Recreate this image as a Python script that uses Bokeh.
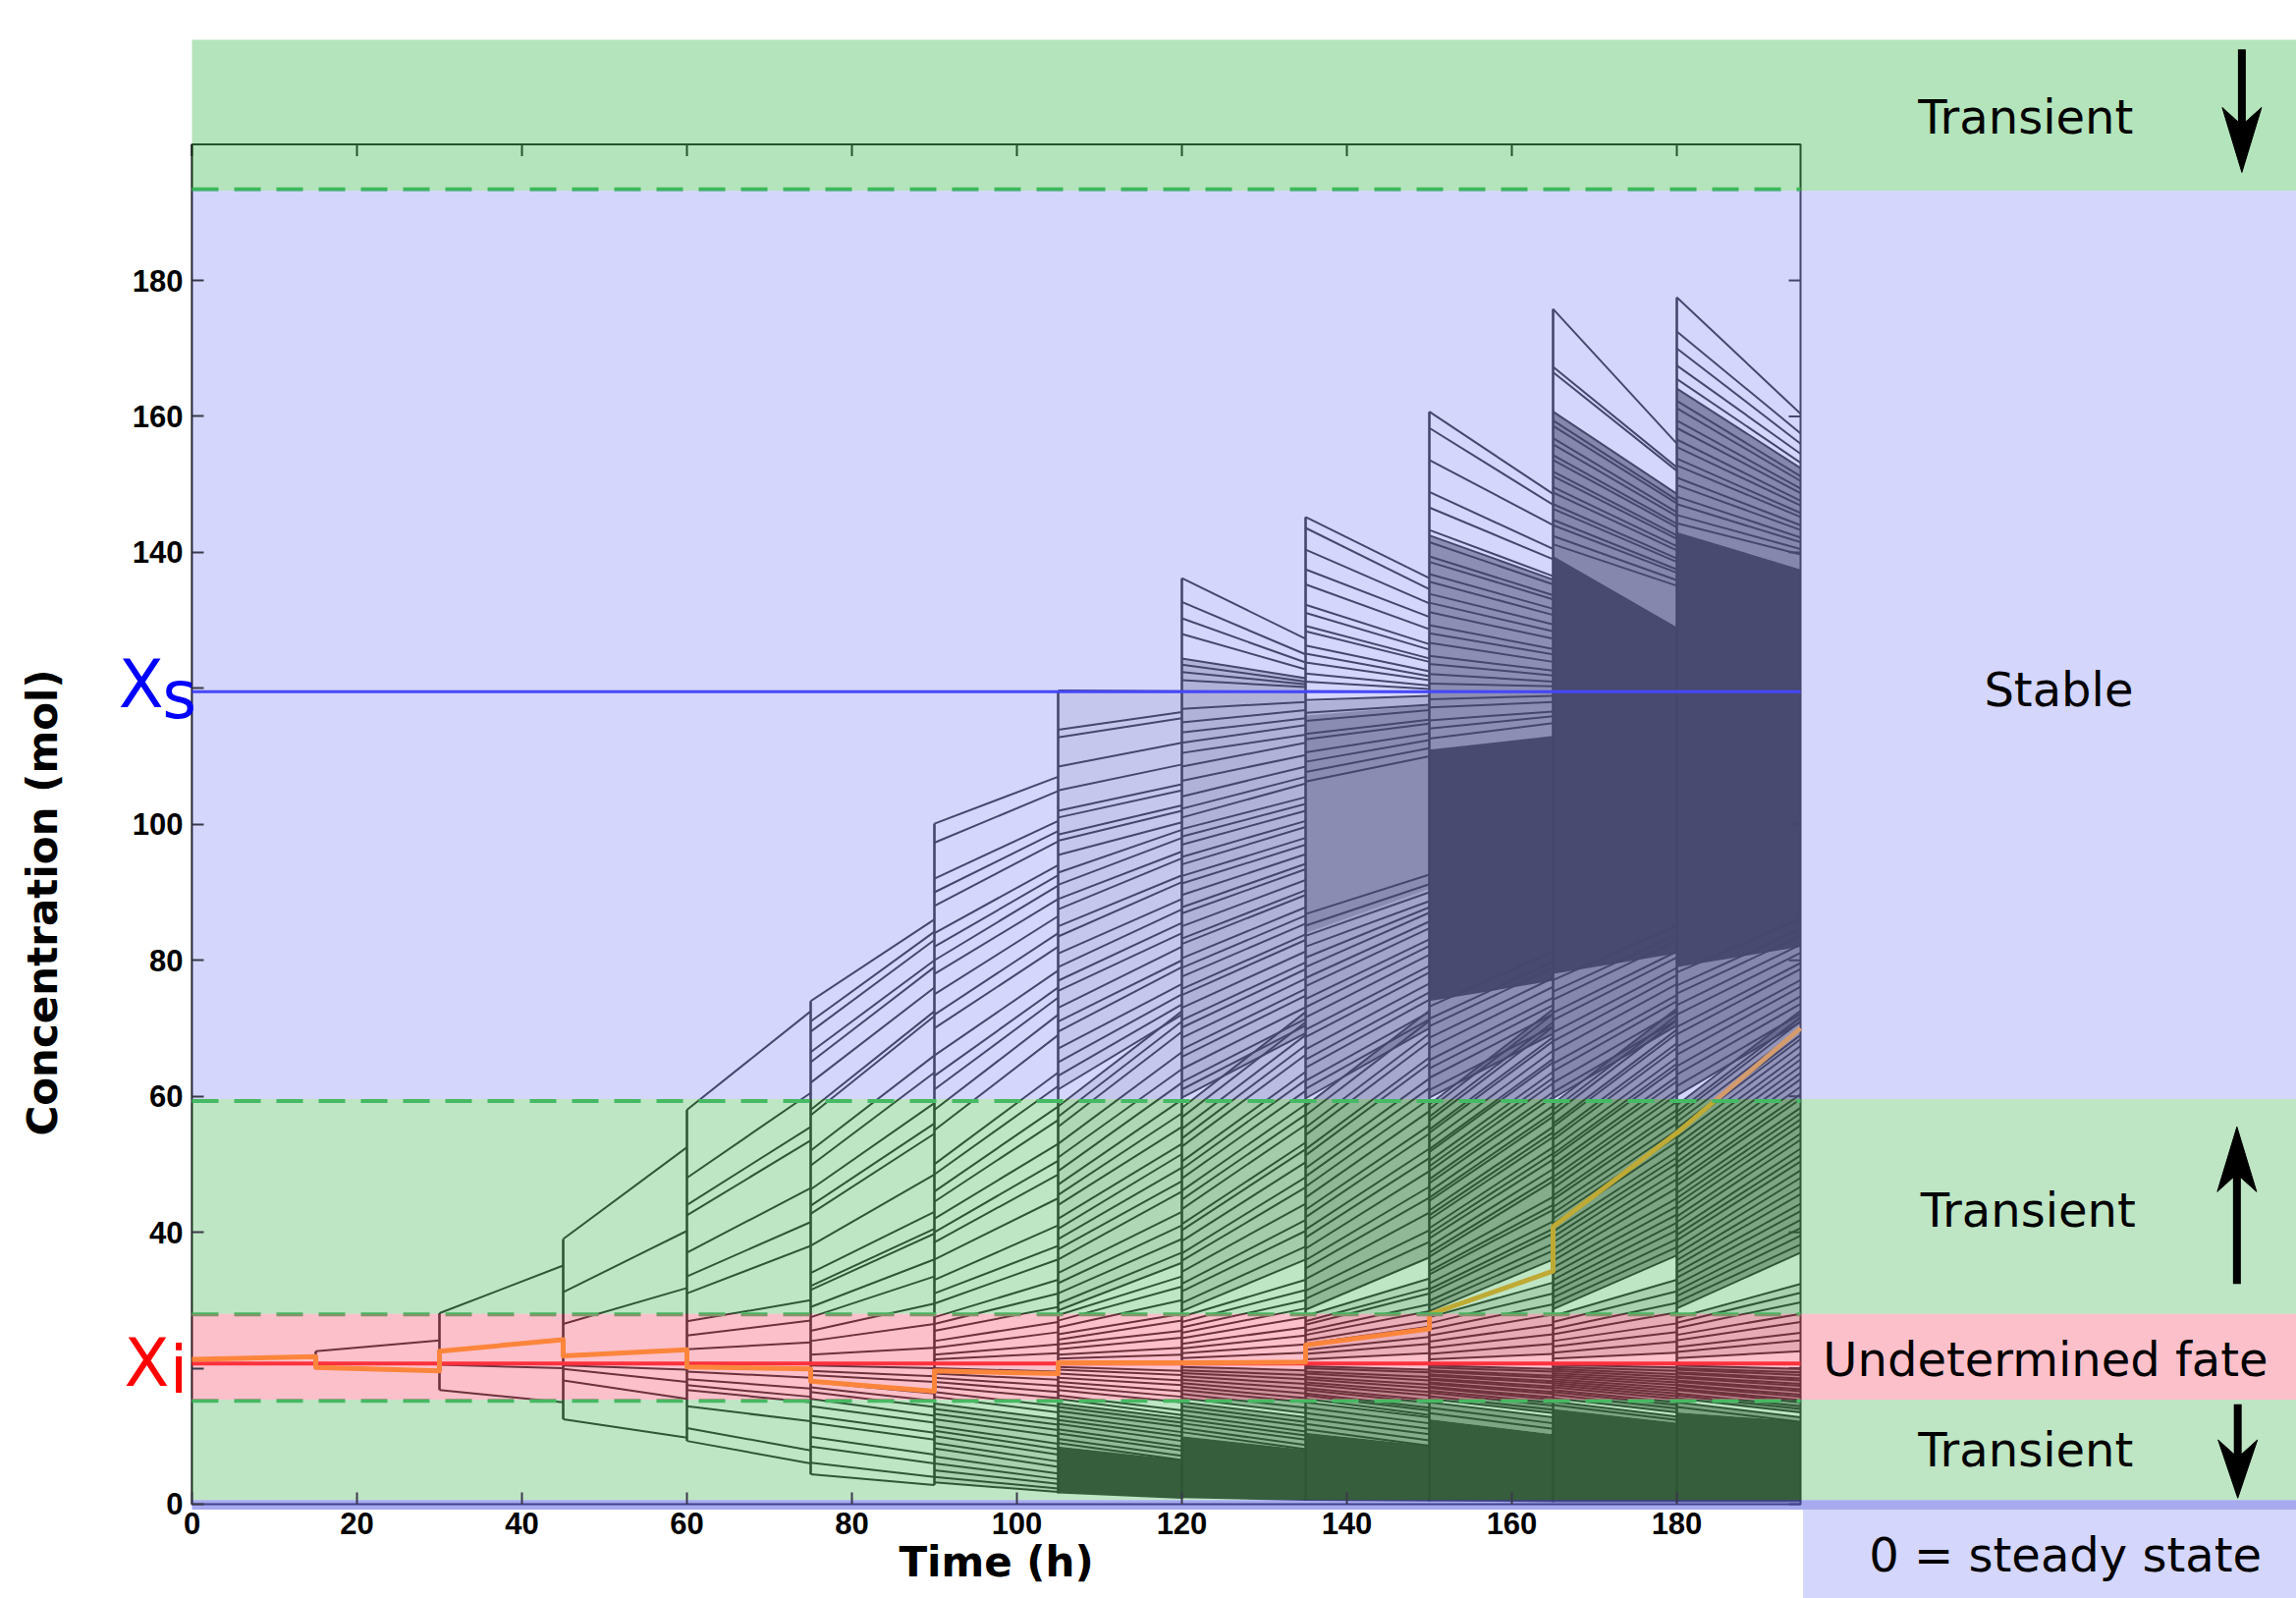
from bokeh.plotting import figure
from bokeh.models import ColumnDataSource, FixedTicker, Label, Range1d
from bokeh.embed import file_html
from bokeh.resources import INLINE

# ---------------------------------------------------------------- data
STEP_H = 15.0                 # branching period (h)
T_END = 195.0                 # end of the simulation (h)
Y_BOX_TOP = 200.0             # top of the axes box (mol)
X_TICKS = [0, 20, 40, 60, 80, 100, 120, 140, 160, 180]
Y_TICKS = [0, 20, 40, 60, 80, 100, 120, 140, 160, 180]
Y_TICKS_HIDDEN = [20, 120]    # covered by the X_i / X_s labels

XS_LEVEL = 119.5              # stable steady state  X_s
XI_LEVEL = 20.7               # unstable steady state X_i
DASH_LEVELS = [193.4, 59.3, 27.9, 15.2]

# fate bands (mol) and their labels
BAND_TEXT = ["Transient", "Stable", "Transient", "Undetermined fate", "Transient"]
BAND_BOTTOM = [193.2, 59.6, 28.0, 15.4, 0.6]
BAND_TOP = [215.4, 193.2, 59.6, 28.0, 15.4]
BAND_RGB = [(84, 194, 100), (157, 162, 246), (107, 196, 121), (248, 112, 137), (107, 196, 121)]
BAND_TEXT_X = [222.3, 226.3, 222.6, 224.7, 222.3]
BAND_TEXT_Y = [204.1, 119.9, 43.3, 21.3, 8.0]

STEADY_TEXT = "0 = steady state"
STEADY_TEXT_X = 227.1
STEADY_TEXT_Y = -7.5

# arrows on the right (x, tail, tip)
ARROW_X = [248.5, 247.9, 248.0]
ARROW_TAIL = [214.0, 32.4, 14.7]
ARROW_TIP = [195.9, 55.5, 0.9]

# highlighted (orange) trajectory
ORANGE_T = [0, 15, 15, 30, 30, 45, 45, 60, 60, 75, 75, 90, 90, 105, 105, 120, 120, 135,
            135, 150, 150, 165, 165, 180, 180, 195]
ORANGE_V = [21.3, 21.7, 20.1, 19.6, 22.5, 24.2, 21.8, 22.7, 20.2, 19.9, 18.1, 16.6, 19.6, 19.2,
            20.8, 20.8, 20.8, 20.9, 23.4, 25.8, 27.9, 34.3, 40.8, 54.6, 54.6, 70.0]

# branch segments: value at the start and at the end of each 15 h interval
SEG_START = [
    [20.7],
    [22.5, 20.7],
    [28.1, 20.5, 16.8],
    [39.0, 31.2, 26.5, 20.4, 19.9, 18.2, 12.5],
    [58.0, 48.0, 44.0, 42.5, 37.0, 33.5, 31.0, 26.9, 24.8, 22.8, 19.5, 18.4, 17.5, 16.8, 14.4, 11.2, 9.3],
    [74.0, 71.0, 69.5, 66.5, 65.0, 62.0, 58.0, 57.2, 52.0, 49.8, 46.3, 43.9, 42.7, 38.0, 34.0, 32.1,
     31.5, 29.0, 27.5, 25.5, 24.0, 22.0, 20.4, 19.6, 19.0, 18.0, 17.2, 16.5, 15.5, 14.4, 13.0, 12.0,
     9.9, 8.5, 6.1, 4.4],
    [100.1, 97.3, 92.0, 90.0, 88.0, 84.0, 82.0, 80.0, 78.0, 75.0, 72.0, 70.0, 66.0, 63.0, 61.0,
     58.0, 55.0, 50.0, 48.5, 46.0, 44.5, 42.0, 40.0, 38.5, 36.0, 33.0, 31.0, 29.5,
     27.5, 26.5, 25.5, 24.0, 23.0, 22.0, 21.3, 20.0, 19.2, 18.6, 18.0, 17.3, 16.5, 15.8,
     14.8, 14.0, 13.3, 12.5, 11.5, 10.8, 10.0, 9.0, 8.2, 7.0, 6.0, 5.0, 4.0, 3.2],
    [119.7, 113.9, 112.8, 108.5, 105.0, 102.0, 101.0, 98.5, 97.6, 95.5, 92.9, 91.1, 89.0, 87.5, 85.0,
     83.5, 81.0, 79.0, 77.0, 75.5, 73.0, 71.0, 69.5, 67.0, 65.0, 63.0, 61.0]
    + [58.5, 57.0, 55.5, 53.0, 51.0, 49.0, 47.0, 45.5, 44.0, 42.0, 40.5, 39.0, 37.5, 36.0, 34.0, 32.5,
       31.0, 29.5, 28.5]
    + [27.8, 27.0, 26.0, 25.0, 24.2, 23.5, 22.8, 22.0, 21.4, 20.2, 19.8, 19.2, 18.6, 18.0, 17.4, 16.8,
       16.0, 15.5]
    + [14.8, 14.3, 13.7, 13.0, 12.4, 11.8, 11.0, 10.4, 9.6, 9.0],
    [136.2, 132.7, 130.3, 128.0, 124.4, 123.5, 122.4, 121.2, 119.6, 117.0, 115.0, 113.5, 112.0, 110.5,
     108.5, 106.4, 104.1, 102.3, 101.0, 99.3, 98.2, 97.0, 95.2, 94.1, 92.4, 91.3, 89.6, 87.8, 86.9,
     85.0, 83.2, 82.4, 80.3, 78.9, 77.6, 75.8, 74.9, 73.0, 71.2, 70.1, 68.6, 66.9, 65.8, 64.0, 62.1,
     61.0, 59.8]
    + [58.3, 56.9, 55.2, 53.8, 52.6, 50.4, 49.3, 47.9, 46.1, 44.8, 43.4, 41.2, 40.3, 38.7, 36.9, 35.8,
       34.2, 32.4, 31.3, 29.6, 28.4]
    + [27.6, 26.8, 26.0, 25.2, 24.4, 23.6, 22.9, 22.2, 21.5, 20.2, 19.7, 19.3, 18.8, 18.3, 17.8, 17.3,
       16.8, 16.2, 15.6]
    + [15.0, 14.4, 13.8, 13.1, 12.5, 11.9, 11.2, 10.6],
    [145.2, 143.6, 140.4, 137.5, 135.3, 132.3, 131.1, 129.2, 128.4, 126.3, 125.1, 123.8, 122.2, 121.0,
     119.6, 118.3, 116.4, 115.2, 113.3, 112.5, 110.6, 109.2, 107.7, 106.3]
    + [86.8, 85.1, 83.6, 82.0, 80.4, 79.0, 77.4, 76.2, 74.3, 73.1, 71.6, 69.8, 68.7, 66.9, 65.4, 64.2,
       62.3, 61.1, 59.7]
    + [58.6, 57.2, 55.4, 54.3, 52.2, 51.3, 49.4, 48.2, 46.7, 45.1, 43.3, 42.2, 40.4, 39.2, 37.6, 35.9,
       34.7, 33.1, 31.4, 30.2, 28.6]
    + [27.7, 26.9, 26.4, 25.5, 24.9, 24.1, 23.6, 22.7, 22.1, 21.3, 20.3, 20.0, 19.5, 19.2, 18.7, 18.4,
       17.9, 17.6, 17.1, 16.8, 16.3, 16.0, 15.5]
    + [15.0, 14.2, 13.4, 12.6, 11.8, 11.0],
    [160.7, 158.3, 153.6, 148.9, 146.6, 143.3, 142.5, 141.5, 139.4, 138.6, 136.8, 135.7, 133.9, 132.6,
     131.2, 129.3, 128.1, 126.7, 124.8, 123.6, 122.1, 120.7, 119.6, 118.4, 117.2, 115.3, 114.1, 112.6]
    + [73.2, 71.4, 70.3, 68.6, 67.1, 65.3, 64.1, 62.7, 60.9, 59.8]
    + [58.8, 58.1, 57.0, 56.4, 55.1, 54.6, 53.3, 52.2, 51.8, 50.5, 49.7, 49.0, 47.8, 47.2, 46.0, 45.1,
       44.6, 43.2, 42.5, 41.9, 40.6, 39.8, 39.1, 37.9, 37.0, 36.4, 35.2, 34.3, 33.8, 32.5, 31.6, 31.0,
       29.9, 29.2, 28.4]
    + [27.5, 26.6, 25.7, 24.8, 23.9, 23.0, 22.1, 21.3]
    + [20.4, 20.1, 19.7, 19.5, 19.1, 18.9, 18.5, 18.3, 17.9, 17.7, 17.3, 17.1, 16.7, 16.4, 15.9, 15.5]
    + [15.0, 14.2, 13.4],
    [175.8, 167.3, 166.5, 160.7, 159.4, 158.6, 156.8, 155.9, 154.3, 153.6, 151.9, 151.2, 149.6, 148.8,
     147.1, 146.4, 144.8, 144.0, 142.4, 141.2]
    + [77.1, 75.4, 74.2, 72.3, 71.2, 69.4, 68.1, 66.6, 64.8, 63.7, 62.0, 60.6, 59.7]
    + [58.9, 58.0, 57.3, 56.0, 55.5, 54.2, 53.6, 52.4, 51.5, 51.0, 49.9, 49.2, 48.1, 47.4, 46.5, 45.4,
       44.8, 43.7, 42.8, 42.0, 41.2, 40.1, 39.3, 38.5, 37.5, 36.6, 35.8, 34.8, 33.9, 33.0, 32.1, 31.3,
       30.4, 29.5, 28.7]
    + [27.7, 26.8, 25.8, 25.0, 24.0, 23.2, 22.3, 21.4]
    + [20.5, 20.2, 19.9, 19.6, 19.3, 19.0, 18.7, 18.4, 18.1, 17.8, 17.5, 17.2, 16.8, 16.5, 16.1, 15.6]
    + [15.1, 14.6],
    [177.5, 172.5, 170.0, 167.5, 165.5, 164.1, 162.3, 161.2, 159.4, 158.3, 156.6, 155.5, 153.8, 152.8,
     151.0, 149.9, 148.2, 147.1, 145.5, 144.3]
    + [78.2, 76.3, 75.1, 73.4, 72.0, 70.2, 69.1, 67.3, 66.1, 64.4, 63.2, 61.5, 60.1]
    + [58.7, 57.7, 57.1, 56.2, 55.3, 54.8, 53.9, 52.9, 52.1, 51.2, 50.3, 49.5, 48.5, 47.6, 46.9, 45.8,
       45.0, 44.2, 43.4, 42.3, 41.5, 40.4, 39.6, 38.8, 37.7, 36.8, 35.9, 35.1, 34.1, 33.3, 32.3, 31.4,
       30.6, 29.7, 28.8]
    + [27.4, 26.7, 25.9, 24.9, 24.1, 23.1, 22.4, 21.5]
    + [20.4, 20.0, 19.8, 19.4, 19.2, 18.8, 18.6, 18.2, 18.0, 17.6, 17.4, 17.0, 16.8, 16.3, 16.0, 15.6]
    + [15.0, 14.3],
]

SEG_END = [
    [20.7],
    [24.1, 20.6],
    [35.1, 20.0, 15.0],
    [52.5, 40.2, 31.8, 19.8, 18.0, 15.5, 9.8],
    [72.5, 60.5, 55.5, 53.5, 46.5, 41.5, 38.0, 30.0, 27.0, 23.8, 18.6, 17.0, 15.8, 15.0, 12.2, 7.9, 6.0],
    [86.0, 84.2, 83.0, 80.0, 79.0, 76.0, 72.5, 71.8, 66.0, 63.5, 59.0, 56.0, 54.5, 48.5, 43.0, 40.5,
     39.8, 36.0, 33.5, 29.5, 26.5, 23.0, 20.0, 18.8, 18.0, 16.3, 15.2, 14.3, 13.0, 12.0, 10.5, 9.5,
     7.3, 6.0, 4.0, 2.8],
    [107.0, 104.9, 100.5, 99.0, 97.5, 94.0, 92.5, 91.0, 89.0, 86.5, 84.0, 82.0, 78.5, 76.0, 74.5,
     72.0, 69.0, 63.5, 61.5, 58.5, 56.5, 53.0, 50.5, 48.5, 45.0, 41.0, 38.0, 36.0,
     33.0, 31.0, 29.0, 26.8, 25.3, 23.5, 22.2, 19.5, 18.3, 17.4, 16.5, 15.6, 14.4, 13.5,
     12.5, 11.7, 10.9, 10.0, 8.9, 8.1, 7.3, 6.3, 5.5, 4.5, 3.7, 3.0, 2.3, 1.8],
    [119.6, 116.5, 115.6, 112.0, 108.8, 105.9, 105.0, 102.8, 102.0, 100.3, 99.2, 98.0, 96.0, 95.0, 92.5,
     91.5, 89.0, 87.5, 85.5, 84.0, 82.0, 80.0, 79.0, 76.5, 75.0, 73.5, 72.0]
    + [72.5, 71.0, 69.5, 66.5, 64.0, 62.0, 59.5, 57.5, 55.5, 53.0, 51.5, 49.5, 47.5, 46.0, 43.0, 41.0,
       39.0, 37.0, 35.5]
    + [33.5, 32.0, 30.0, 28.0, 27.0, 25.5, 24.5, 23.0, 22.0, 19.6, 19.0, 18.2, 17.5, 16.6, 15.8, 15.0,
       13.8, 13.1]
    + [12.6, 12.0, 11.4, 10.6, 10.0, 9.3, 8.5, 7.9, 7.1, 6.5],
    [127.3, 125.0, 123.8, 122.8, 121.5, 121.0, 120.6, 120.2, 119.5, 118.0, 116.8, 115.6, 114.6, 113.2,
     112.0, 110.2, 108.5, 107.0, 106.0, 104.0, 103.0, 102.0, 100.5, 99.6, 98.0, 97.0, 95.6, 94.2, 93.4,
     91.8, 90.3, 89.6, 87.8, 86.6, 85.4, 83.8, 83.0, 81.3, 79.7, 78.7, 77.3, 75.8, 74.8, 73.1, 71.4,
     70.4, 69.3]
    + [72.4, 70.9, 69.0, 67.5, 66.1, 63.6, 62.4, 60.8, 58.8, 57.3, 55.8, 53.2, 52.2, 50.3, 48.1, 46.6,
       44.2, 41.8, 40.2, 37.9, 36.0]
    + [33.0, 31.5, 30.0, 28.8, 27.5, 26.0, 24.8, 23.5, 22.3, 19.7, 19.0, 18.4, 17.7, 17.0, 16.3, 15.6,
       15.0, 14.2, 13.4]
    + [12.8, 12.1, 11.5, 10.7, 10.1, 9.5, 8.7, 8.1],
    [136.2, 134.6, 132.5, 130.5, 128.7, 126.5, 125.7, 124.4, 123.9, 122.5, 121.8, 121.2, 120.4, 119.9,
     119.5, 118.9, 117.6, 116.8, 115.4, 114.8, 113.4, 112.4, 111.2, 110.0]
    + [92.6, 91.2, 90.0, 88.7, 87.8, 87.0, 85.7, 84.7, 83.1, 82.1, 80.8, 79.2, 78.2, 76.6, 75.3, 74.2,
       72.4, 71.3, 70.0]
    + [72.6, 71.1, 69.2, 68.0, 65.7, 64.8, 62.6, 61.2, 59.6, 57.8, 55.7, 54.5, 52.3, 50.9, 49.0, 46.7,
       45.1, 42.9, 40.3, 38.6, 36.3]
    + [33.2, 31.8, 31.0, 29.4, 28.4, 27.0, 26.1, 24.6, 23.6, 22.2, 19.8, 19.4, 18.7, 18.2, 17.6, 17.1,
       16.5, 16.0, 15.3, 14.9, 14.2, 13.8, 13.1]
    + [12.8, 11.9, 11.1, 10.3, 9.4, 8.6],
    [148.6, 147.0, 144.0, 140.5, 139.0, 136.5, 136.0, 135.3, 133.7, 133.1, 131.7, 130.8, 129.4, 128.4,
     127.3, 125.8, 125.0, 123.9, 122.6, 121.9, 121.0, 120.3, 119.5, 118.9, 118.0, 116.6, 115.9, 114.9]
    + [81.3, 79.8, 78.9, 77.4, 76.1, 74.5, 73.4, 72.1, 70.3, 69.2]
    + [72.8, 72.1, 70.9, 70.2, 68.7, 68.1, 66.7, 65.5, 65.0, 63.6, 62.7, 61.9, 60.6, 59.9, 58.6, 57.6,
       57.0, 55.5, 54.7, 54.0, 52.5, 51.6, 50.7, 49.3, 48.2, 47.5, 45.2, 44.0, 43.3, 41.6, 40.5, 39.8,
       38.3, 37.3, 36.0]
    + [32.6, 31.0, 29.4, 27.9, 26.4, 25.0, 23.6, 22.1]
    + [19.9, 19.5, 18.9, 18.6, 18.1, 17.8, 17.3, 17.0, 16.5, 16.2, 15.7, 15.4, 14.9, 14.5, 13.9, 13.4]
    + [12.8, 11.9, 11.1],
    [156.0, 152.5, 152.0, 148.6, 147.7, 147.2, 145.9, 145.3, 144.2, 143.7, 142.5, 142.0, 140.9, 140.3,
     139.1, 138.6, 137.5, 137.0, 135.9, 135.1]
    + [85.1, 83.8, 82.9, 81.3, 80.4, 78.9, 77.8, 76.5, 74.9, 74.0, 72.5, 71.2, 70.4]
    + [72.9, 71.9, 71.2, 69.8, 69.2, 67.8, 67.1, 65.7, 64.8, 64.2, 62.9, 62.2, 60.9, 60.2, 59.2, 58.0,
       57.2, 56.0, 55.0, 54.1, 53.3, 51.9, 51.0, 50.1, 48.9, 47.8, 46.5, 45.0, 43.8, 42.6, 41.4, 40.3,
       39.0, 37.8, 36.6]
    + [33.0, 31.3, 29.6, 28.2, 26.6, 25.3, 23.9, 22.3]
    + [20.1, 19.6, 19.1, 18.7, 18.3, 17.9, 17.5, 17.1, 16.7, 16.3, 15.9, 15.5, 15.0, 14.6, 14.1, 13.5]
    + [12.9, 12.4],
    [160.4, 157.5, 156.0, 154.5, 153.2, 152.4, 151.2, 150.5, 149.4, 148.7, 147.6, 146.9, 145.8, 145.2,
     144.0, 143.3, 142.2, 141.5, 140.5, 139.7]
    + [86.1, 84.6, 83.6, 82.3, 81.1, 79.6, 78.7, 77.1, 76.1, 74.7, 73.6, 72.1, 70.9]
    + [72.6, 71.6, 71.0, 69.9, 69.0, 68.4, 67.4, 66.3, 65.4, 64.4, 63.4, 62.5, 61.4, 60.3, 59.6, 58.3,
       57.5, 56.6, 55.7, 54.5, 53.6, 52.3, 51.3, 50.4, 49.1, 48.0, 46.7, 45.6, 44.2, 43.1, 41.8, 40.6,
       39.5, 38.2, 37.0]
    + [32.4, 31.1, 29.7, 28.0, 26.8, 25.2, 24.1, 22.5]
    + [19.9, 19.4, 19.0, 18.5, 18.2, 17.7, 17.4, 16.9, 16.6, 16.1, 15.8, 15.3, 15.0, 14.4, 14.0, 13.5]
    + [12.8, 12.1],
]

# bundles too dense to separate: interval, low/high at start and end, darkness of the bundle
DENSE_INTERVAL = [7, 8, 9, 9, 10, 10, 11, 11, 12, 12,
                  7, 8, 9, 10, 11, 12,
                  8, 9, 10, 11, 12,
                  9, 10, 11, 12,
                  6, 7, 7, 8, 8, 9, 9, 10, 10, 11, 11, 12, 12]
DENSE_LOW_START = [61.0, 59.8, 59.7, 84.0, 59.8, 74.0, 59.7, 78.0, 60.1, 79.0,
                   28.5, 28.4, 28.6, 28.4, 28.7, 28.8,
                   15.6, 15.5, 15.5, 15.6, 15.6,
                   21.3, 21.3, 21.4, 21.5,
                   3.2, 1.6, 8.5, 0.9, 10.0, 0.5, 10.5, 0.4, 12.5, 0.3, 14.0, 0.3, 13.5]
DENSE_HIGH_START = [119.7, 124.4, 116.0, 118.0, 142.5, 111.0, 160.7, 139.5, 164.0, 143.0,
                    58.5, 58.3, 58.6, 58.8, 58.9, 58.7,
                    20.2, 20.3, 20.4, 20.5, 20.4,
                    27.7, 27.5, 27.7, 27.4,
                    14.8, 8.5, 14.8, 10.0, 15.0, 10.5, 15.0, 12.5, 15.0, 14.0, 15.1, 13.5, 15.0]
DENSE_LOW_END = [72.0, 69.3, 70.0, 90.5, 69.2, 77.0, 70.4, 81.0, 70.9, 82.0,
                 35.5, 36.0, 36.3, 36.0, 36.6, 37.0,
                 13.4, 13.1, 13.4, 13.5, 13.5,
                 22.2, 22.1, 22.3, 22.5,
                 1.8, 0.8, 6.5, 0.5, 8.0, 0.4, 8.6, 0.3, 10.3, 0.3, 12.0, 0.3, 12.2]
DENSE_HIGH_END = [119.6, 121.5, 117.5, 119.0, 136.0, 113.0, 148.6, 129.0, 152.4, 137.5,
                  72.5, 72.4, 72.6, 72.8, 72.9, 72.6,
                  19.7, 19.8, 19.9, 20.1, 19.9,
                  33.2, 32.6, 33.0, 32.4,
                  12.5, 6.5, 12.6, 8.0, 12.8, 8.6, 12.8, 10.3, 12.8, 12.0, 12.9, 12.2, 12.8]
DENSE_ALPHA = [0.10, 0.25, 0.35, 0.25, 0.50, 0.95, 0.55, 0.95, 0.55, 0.95,
               0.10, 0.18, 0.32, 0.40, 0.45, 0.45,
               0.30, 0.40, 0.45, 0.45, 0.45,
               0.12, 0.15, 0.15, 0.15,
               0.15, 0.95, 0.30, 0.95, 0.35, 0.95, 0.40, 0.95, 0.45, 0.95, 0.45, 0.95, 0.45]

# ---------------------------------------------------------------- layout
W, H = 2338, 1627
X0, X1 = -23.214, 255.12       # x = 0 at 195 px, 8.4 px per hour
Y0, Y1 = -13.87, 221.18        # y = 0 at 1531 px, 6.922 px per mol
PX_X = W / (X1 - X0)
PX_Y = H / (Y1 - Y0)

OVERLAY_ALPHA = 0.44
LINE_COLOR = "#000000"


def hexc(rgb):
    return "#%02x%02x%02x" % tuple(int(round(c)) for c in rgb)


p = figure(width=W, height=H, x_range=Range1d(X0, X1), y_range=Range1d(Y0, Y1),
           output_backend="svg", toolbar_location=None,
           min_border=0, min_border_left=0, min_border_top=0,
           min_border_bottom=0, min_border_right=0,
           background_fill_color="white", border_fill_color="white",
           outline_line_color=None)
p.xgrid.visible = False
p.ygrid.visible = False

# axes (drawn through the origin, inside the frame)
for ax, ticks in ((p.xaxis[0], X_TICKS), (p.yaxis[0], Y_TICKS)):
    ax.ticker = FixedTicker(ticks=ticks)
    ax.fixed_location = 0
    ax.axis_line_color = None
    ax.major_tick_in = 12
    ax.major_tick_out = 0
    ax.major_tick_line_color = "#3a3a4a"
    ax.major_tick_line_width = 2
    ax.minor_tick_line_color = None
    ax.major_label_text_font = "Liberation Sans"
    ax.major_label_text_font_style = "bold"
    ax.major_label_text_font_size = "31px"
    ax.major_label_text_color = "#000000"
    ax.axis_label_text_font = "DejaVu Sans"
    ax.axis_label_text_font_style = "bold"
    ax.axis_label_text_font_size = "42px"
    ax.axis_label_text_color = "#000000"

p.xaxis.bounds = (0, T_END)
p.xaxis.axis_label = "Time (h)"
p.xaxis.major_label_standoff = 9
p.xaxis.axis_label_standoff = 0
p.yaxis.bounds = (-3, 180)
p.yaxis.axis_label = "Concentration (mol)"
p.yaxis.major_label_standoff = 9
p.yaxis.axis_label_standoff = 64
p.yaxis.major_label_overrides = {v: "" for v in Y_TICKS_HIDDEN}

# axes box and the inward ticks on the top / right edges
p.quad(left=[0], right=[T_END], bottom=[0], top=[Y_BOX_TOP], fill_color=None,
       line_color=LINE_COLOR, line_width=2)
tick_len_x = 12 / PX_X
tick_len_y = 12 / PX_Y
p.segment(x0=X_TICKS, y0=[Y_BOX_TOP] * len(X_TICKS), x1=X_TICKS,
          y1=[Y_BOX_TOP - tick_len_y] * len(X_TICKS), line_color=LINE_COLOR, line_width=2)
p.segment(x0=[T_END] * len(Y_TICKS), y0=Y_TICKS, x1=[T_END - tick_len_x] * len(Y_TICKS),
          y1=Y_TICKS, line_color=LINE_COLOR, line_width=2)

# dense bundles
n_dense = len(DENSE_INTERVAL)
assert all(len(a) == n_dense for a in (DENSE_LOW_START, DENSE_HIGH_START, DENSE_LOW_END,
                                       DENSE_HIGH_END, DENSE_ALPHA))
fxs, fys = [], []
fill_bound = {}
for k, a, b, c, d in zip(DENSE_INTERVAL, DENSE_LOW_START, DENSE_HIGH_START,
                         DENSE_LOW_END, DENSE_HIGH_END):
    t0 = k * STEP_H
    fxs.append([t0, t0 + STEP_H, t0 + STEP_H, t0])
    fys.append([a, c, d, b])
    fill_bound.setdefault(k, []).extend([a, b])
    fill_bound.setdefault(k + 1, []).extend([c, d])
p.patches(xs="xs", ys="ys", source=ColumnDataSource(dict(xs=fxs, ys=fys, a=DENSE_ALPHA)),
          fill_color=LINE_COLOR, fill_alpha="a", line_color=None)

# trajectories
x0s, y0s, x1s, y1s = [], [], [], []
for k, (starts, ends) in enumerate(zip(SEG_START, SEG_END)):
    assert len(starts) == len(ends), k
    t0 = k * STEP_H
    for s, e in zip(starts, ends):
        x0s.append(t0)
        y0s.append(s)
        x1s.append(t0 + STEP_H)
        y1s.append(e)
p.segment(x0="x0", y0="y0", x1="x1", y1="y1",
          source=ColumnDataSource(dict(x0=x0s, y0=y0s, x1=x1s, y1=y1s)),
          line_color=LINE_COLOR, line_width=2.0)

# jumps at each branching time
vx, vlo, vhi = [], [], []
for k in range(1, len(SEG_START)):
    vals = SEG_END[k - 1] + SEG_START[k] + fill_bound.get(k, [])
    vx.append(k * STEP_H)
    vlo.append(min(vals))
    vhi.append(max(vals))
p.segment(x0=vx, y0=vlo, x1=vx, y1=vhi, line_color=LINE_COLOR, line_width=2.6)

# steady states, highlighted trajectory, thresholds
p.segment(x0=[0], y0=[XS_LEVEL], x1=[T_END], y1=[XS_LEVEL], line_color="#0000ff", line_width=3)
p.segment(x0=[0], y0=[XI_LEVEL], x1=[T_END], y1=[XI_LEVEL], line_color="#ff0000", line_width=4)
p.line(ORANGE_T, ORANGE_V, line_color="#ff9600", line_width=5, line_join="round")
p.segment(x0=[0] * len(DASH_LEVELS), y0=DASH_LEVELS, x1=[T_END] * len(DASH_LEVELS), y1=DASH_LEVELS,
          line_color="#29b154", line_width=4, line_dash="27 16")

# translucent fate bands over everything
p.quad(left=[0] * len(BAND_TOP), right=[X1] * len(BAND_TOP), bottom=BAND_BOTTOM, top=BAND_TOP,
       fill_color=[hexc(c) for c in BAND_RGB], fill_alpha=OVERLAY_ALPHA, line_color=None)
p.quad(left=[0], right=[X1], bottom=[-0.8], top=[BAND_BOTTOM[-1]],
       fill_color="#6e71e6", fill_alpha=0.6, line_color=None)
p.quad(left=[T_END + 0.3], right=[X1], bottom=[Y0], top=[-0.8],
       fill_color=hexc(BAND_RGB[1]), fill_alpha=OVERLAY_ALPHA, line_color=None)

# arrows
head_len = 66 / PX_Y
head_half = 20 / PX_X
notch = 18 / PX_Y
hx, hy, sx0, sy0, sx1, sy1 = [], [], [], [], [], []
for ax_, tail, tip in zip(ARROW_X, ARROW_TAIL, ARROW_TIP):
    d = 1.0 if tip > tail else -1.0
    hl = min(head_len, 0.62 * abs(tip - tail))
    back = tip - d * hl
    mid = back + d * notch
    hx.append([ax_, ax_ + head_half, ax_, ax_ - head_half])
    hy.append([tip, back, mid, back])
    sx0.append(ax_)
    sy0.append(tail)
    sx1.append(ax_)
    sy1.append(mid)
p.segment(x0=sx0, y0=sy0, x1=sx1, y1=sy1, line_color="#000000", line_width=8)
p.patches(xs=hx, ys=hy, fill_color="#000000", line_color="#000000", line_width=1)

# texts
for txt, x, y in zip(BAND_TEXT + [STEADY_TEXT], BAND_TEXT_X + [STEADY_TEXT_X],
                     BAND_TEXT_Y + [STEADY_TEXT_Y]):
    p.add_layout(Label(x=x, y=y, text=txt, text_font="DejaVu Sans", text_font_size="48px",
                       text_color="#000000", text_align="center", text_baseline="middle"))

for txt, x, y, col in (("X", -8.9, 120.6, "#0000ff"), ("s", -3.6, 119.0, "#0000ff"),
                       ("X", -8.2, 20.8, "#ff0000"), ("i", -2.7, 19.6, "#ff0000")):
    p.add_layout(Label(x=x, y=y, text=txt, text_font="DejaVu Sans", text_font_size="67px",
                       text_color=col, text_align="left", text_baseline="alphabetic"))

open("out.html", "w").write(file_html(p, INLINE))
